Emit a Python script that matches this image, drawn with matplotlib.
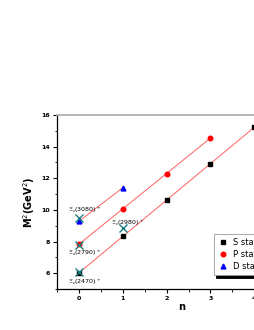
import numpy as np
import matplotlib.pyplot as plt
from matplotlib.ticker import MultipleLocator

# Regge trajectory data (n, M^2 in GeV^2)
n_s = [0, 1, 2, 3, 4]
m2_s = [6.0, 8.35, 10.62, 12.92, 15.22]
n_p = [0, 1, 2, 3]
m2_p = [7.85, 10.05, 12.28, 14.56]
n_d = [0, 1]
m2_d = [9.28, 11.4]

# experimental states
exp_n = [0, 0, 0, 1]
exp_m2 = [6.10, 7.78, 9.49, 8.88]
exp_labels = [r"$\Xi_c(2470)^+$", r"$\Xi_c(2790)^+$", r"$\Xi_c(3080)^+$", r"$\Xi_c(2980)^+$"]
label_pos = [(-0.25, 5.45), (-0.25, 7.3), (-0.25, 10.0), (0.73, 9.2)]

fig = plt.figure(figsize=(2.55, 3.3), dpi=100)
ax = fig.add_axes([0.2235, 0.1242, 0.98, 0.5273])

for nn, mm in [(n_s, m2_s), (n_p, m2_p), (n_d, m2_d)]:
    k, b = np.polyfit(nn, mm, 1)
    xx = np.array([nn[0], nn[-1]])
    ax.plot(xx, k * xx + b, color="#ff6060", lw=0.7, zorder=1)

ax.plot(n_s, m2_s, "s", color="black", ms=2.8, label="S states", zorder=3)
ax.plot(n_p, m2_p, "o", color="red", ms=3.3, label="P states", zorder=3)
ax.plot(n_d, m2_d, "^", color="blue", ms=3.5, label="D states", zorder=3)
ax.plot(exp_n, exp_m2, "x", color="#1a8080", ms=5.5, mew=1.0, zorder=4)

for lab, (tx, ty) in zip(exp_labels, label_pos):
    ax.text(tx, ty, lab, fontsize=4.5, color="black", ha="left", va="center")

ax.set_xlim(-0.5, 5.2)
ax.set_ylim(5, 16)
ax.xaxis.set_major_locator(MultipleLocator(1))
ax.xaxis.set_minor_locator(MultipleLocator(0.5))
ax.yaxis.set_major_locator(MultipleLocator(2))
ax.yaxis.set_minor_locator(MultipleLocator(1))
ax.tick_params(which="major", direction="out", length=3, width=0.8, labelsize=4.5, pad=2)
ax.tick_params(which="minor", direction="out", length=1.8, width=0.6)
for lbl in ax.get_xticklabels() + ax.get_yticklabels():
    lbl.set_fontweight("bold")

ax.spines["top"].set_color("#b0b0b0")
ax.spines["top"].set_linewidth(1.3)
ax.spines["left"].set_linewidth(0.9)
ax.spines["bottom"].set_linewidth(0.9)

ax.set_xlabel("n", fontsize=7, fontweight="bold", labelpad=1)
ax.set_ylabel(r"M$^2$(GeV$^2$)", fontsize=7, fontweight="bold", labelpad=3)

leg = ax.legend(loc="upper left", bbox_to_anchor=(0.61, 0.34), fontsize=6,
                frameon=True, fancybox=False, edgecolor="#999999",
                shadow={"color": "black", "alpha": 1}, handletextpad=0.6,
                borderpad=0.5, labelspacing=0.35, handlelength=1.2)
leg.get_frame().set_linewidth(0.6)

fig.savefig("out.png", dpi=100)
